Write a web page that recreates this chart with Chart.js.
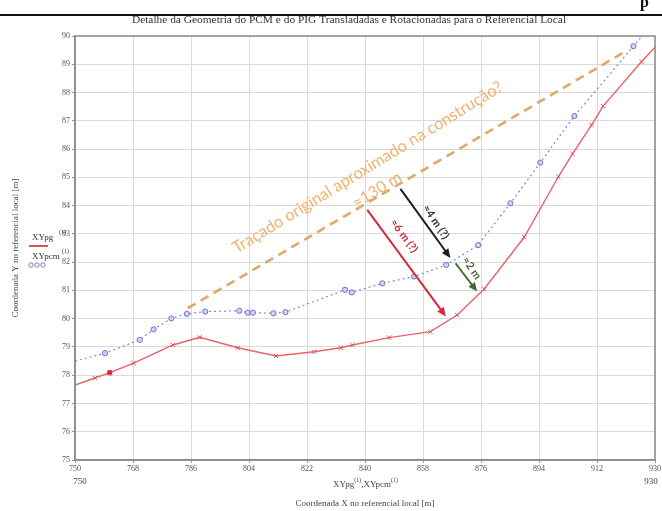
<!DOCTYPE html>
<html>
<head>
<meta charset="utf-8">
<script src="https://cdn.jsdelivr.net/npm/chart.js@4.4.1/dist/chart.umd.min.js"></script>
<style>
  html, body { margin: 0; padding: 0; background: #fff; }
  #wrap { width: 662px; height: 511px; position: relative; }
</style>
</head>
<body>
<div id="wrap"><canvas id="grafico"></canvas></div>
<script>
// eixos
const xTicks = [750, 768, 786, 804, 822, 840, 858, 876, 894, 912, 930];
const yMin = 75, yMax = 90;

// XYpg (vermelho)
const pgX = [750, 756.2, 760.8, 768.2, 780.4, 788.7, 800.5, 812.4, 824.2, 832.5, 836.1, 847.5,
             860.3, 868.6, 877.0, 889.4, 900.0, 904.4, 910.3, 913.9, 925.8, 930];
const pgY = [77.65, 77.9, 78.09, 78.43, 79.07, 79.34, 78.97, 78.68, 78.83, 78.97, 79.07, 79.33,
             79.54, 80.13, 81.05, 82.88, 85.02, 85.83, 86.85, 87.52, 89.09, 89.6];

// XYpcm (azul)
const pcmX = [750, 759.3, 770.1, 774.4, 779.9, 784.7, 790.4, 801.0, 803.6, 805.2, 811.6, 815.3,
              833.8, 835.9, 845.4, 855.2, 865.2, 875.1, 885.1, 894.4, 905.0, 923.3, 929];
const pcmY = [78.5, 78.78, 79.25, 79.62, 80.01, 80.17, 80.25, 80.28, 80.21, 80.21, 80.19, 80.23,
              81.02, 80.93, 81.25, 81.49, 81.90, 82.60, 84.08, 85.52, 87.17, 89.64, 90.41];

// traçado original (tracejado laranja)
const tracX = [785, 920.6];
const tracY = [80.37, 89.44];

// setas [x0, y0, x1, y1] em coordenadas do referencial
const setaPreta = [851.0, 84.59, 866.5, 82.15];
const setaVermelha = [840.7, 83.85, 865.1, 80.08];
const setaVerde = [868.1, 81.96, 874.8, 80.96];

// textos anotados: [x, y] do centro
const textos = [
  { t: 'Traçado original aproximado na construção?', at: [840.8, 85.35], ang: -31.5, font: '16.4px Lato', cor: 'rgba(238,165,85,0.85)' },
  { t: '≈130 m', at: [843.7, 84.55], ang: -31.5, font: '16px Lato', cor: 'rgba(238,165,85,0.85)' },
  { t: '≈4 m (?)', at: [862.0, 83.42], ang: 56, font: 'bold 11px Lato', cor: '#333' },
  { t: '≈6 m (?)', at: [852.1, 82.93], ang: 54, font: 'bold 11px Lato', cor: '#c8283c' },
  { t: '≈2 m', at: [873.1, 81.79], ang: 55, font: 'bold 11px Lato', cor: '#4d5e3c' }
];

const pts = (xs, ys) => xs.map((x, i) => ({ x: x, y: ys[i] }));

function seta(ctx, s, p, cor) {
  const ax = s.x.getPixelForValue(p[0]), ay = s.y.getPixelForValue(p[1]);
  const bx = s.x.getPixelForValue(p[2]), by = s.y.getPixelForValue(p[3]);
  const a = Math.atan2(by - ay, bx - ax);
  ctx.save();
  ctx.strokeStyle = cor; ctx.fillStyle = cor; ctx.lineWidth = 2;
  ctx.beginPath(); ctx.moveTo(ax, ay);
  ctx.lineTo(bx - 6 * Math.cos(a), by - 6 * Math.sin(a)); ctx.stroke();
  ctx.beginPath();
  ctx.moveTo(bx, by);
  ctx.lineTo(bx - 9 * Math.cos(a) + 4 * Math.sin(a), by - 9 * Math.sin(a) - 4 * Math.cos(a));
  ctx.lineTo(bx - 9 * Math.cos(a) - 4 * Math.sin(a), by - 9 * Math.sin(a) + 4 * Math.cos(a));
  ctx.closePath(); ctx.fill();
  ctx.restore();
}

const extras = {
  id: 'extras',
  afterDraw(chart) {
    const ctx = chart.ctx, area = chart.chartArea;
    const s = { x: chart.scales.x, y: chart.scales.y };

    // moldura do gráfico
    ctx.save();
    ctx.strokeStyle = '#8c8c8c'; ctx.lineWidth = 1.5;
    ctx.strokeRect(area.left, area.top, area.right - area.left, area.bottom - area.top);

    // linha de página no topo
    ctx.strokeStyle = '#111'; ctx.lineWidth = 2;
    ctx.beginPath(); ctx.moveTo(0, 15); ctx.lineTo(662, 15); ctx.stroke();
    ctx.fillStyle = '#111'; ctx.font = 'bold 16px "Liberation Serif"';
    ctx.textAlign = 'left'; ctx.textBaseline = 'alphabetic';
    ctx.fillText('p', 640, 7);

    // título
    ctx.fillStyle = '#333'; ctx.font = '11.4px "Liberation Serif"';
    ctx.textAlign = 'center'; ctx.textBaseline = 'middle';
    ctx.fillText('Detalhe da Geometria do PCM e do PIG Transladadas e Rotacionadas para o Referencial Local', 349, 20);

    // títulos dos eixos
    ctx.font = '9px "Liberation Serif"'; ctx.fillStyle = '#444';
    ctx.fillText('Coordenada X no referencial local [m]', 365, 504);
    ctx.fillText('750', 80, 482);
    ctx.fillText('930', 651, 482);
    ctx.textAlign = 'left';
    ctx.fillText('XYpg', 333, 485);
    let w = ctx.measureText('XYpg').width;
    ctx.font = '6px "Liberation Serif"'; ctx.fillText('(1)', 333 + w, 480);
    let w2 = ctx.measureText('(1)').width;
    ctx.font = '9px "Liberation Serif"'; ctx.fillText(',XYpcm', 333 + w + w2, 485);
    let w3 = ctx.measureText(',XYpcm').width;
    ctx.font = '6px "Liberation Serif"'; ctx.fillText('(1)', 333 + w + w2 + w3, 480);

    ctx.save();
    ctx.translate(16, 248); ctx.rotate(-Math.PI / 2);
    ctx.font = '9px "Liberation Serif"'; ctx.textAlign = 'center';
    ctx.fillText('Coordenada Y no referencial local [m]', 0, 0);
    ctx.restore();

    // legenda
    ctx.font = '9px "Liberation Serif"'; ctx.textAlign = 'left'; ctx.fillStyle = '#333';
    ctx.fillText('XYpg', 32, 238);
    ctx.fillText('XYpcm', 32, 257);
    ctx.font = '6px "Liberation Serif"';
    ctx.fillText('(1)', 59, 232);
    ctx.fillText('(1)', 62, 251);
    ctx.strokeStyle = '#e0505a'; ctx.lineWidth = 2;
    ctx.beginPath(); ctx.moveTo(29, 246); ctx.lineTo(48, 246); ctx.stroke();
    ctx.strokeStyle = '#7a7ad8'; ctx.lineWidth = 1;
    for (let i = 0; i < 3; i++) {
      ctx.beginPath(); ctx.arc(31 + i * 6, 265, 2.2, 0, Math.PI * 2); ctx.stroke();
    }
    ctx.restore();

    // setas
    seta(ctx, s, setaPreta, '#1e1e1e');
    seta(ctx, s, setaVermelha, '#d42a3a');
    seta(ctx, s, setaVerde, '#3f6a2e');

    // textos rotacionados
    textos.forEach(o => {
      ctx.save();
      ctx.translate(s.x.getPixelForValue(o.at[0]), s.y.getPixelForValue(o.at[1]));
      ctx.rotate(o.ang * Math.PI / 180);
      ctx.font = o.font; ctx.fillStyle = o.cor;
      ctx.textAlign = 'center'; ctx.textBaseline = 'middle';
      ctx.fillText(o.t, 0, 0);
      ctx.restore();
    });
  }
};

const pgRaio = pgX.map((x, i) => (i === 0 || i === pgX.length - 1) ? 0 : 3);
const pgEstilo = pgX.map((x, i) => i === 2 ? 'rect' : 'crossRot');
const pcmRaio = pcmX.map((x, i) => (i === 0 || i === pcmX.length - 1) ? 0 : 2.6);

new Chart(document.getElementById('grafico'), {
  type: 'scatter',
  data: {
    datasets: [
      {
        label: 'Traçado original',
        data: pts(tracX, tracY),
        showLine: true,
        borderColor: 'rgba(220,160,90,0.9)',
        borderWidth: 2.6,
        borderDash: [9, 6],
        pointRadius: 0,
        order: 3
      },
      {
        label: 'XYpcm',
        data: pts(pcmX, pcmY),
        showLine: true,
        borderColor: 'rgba(110,110,210,0.85)',
        borderWidth: 1.2,
        borderDash: [2, 3],
        pointStyle: 'circle',
        pointRadius: pcmRaio,
        pointBorderColor: '#6e6ed2',
        pointBackgroundColor: 'rgba(205,205,245,0.8)',
        pointBorderWidth: 1,
        clip: 0,
        order: 2
      },
      {
        label: 'XYpg',
        data: pts(pgX, pgY),
        showLine: true,
        borderColor: '#e8636c',
        borderWidth: 1.4,
        pointStyle: pgEstilo,
        pointRadius: pgRaio,
        pointBorderColor: '#e0505a',
        pointBackgroundColor: '#d8202c',
        pointBorderWidth: 1,
        clip: 0,
        order: 1
      }
    ]
  },
  options: {
    responsive: true,
    maintainAspectRatio: false,
    animation: false,
    layout: { padding: { top: 36, right: 5, left: 0, bottom: 0 } },
    plugins: { legend: { display: false }, tooltip: { enabled: false }, title: { display: false } },
    scales: {
      x: {
        type: 'linear', min: 750, max: 930,
        afterBuildTicks: sc => { sc.ticks = xTicks.map(v => ({ value: v })); },
        afterFit: sc => { sc.height = 51; },
        grid: { color: '#dadada', lineWidth: 1, tickLength: 3, tickColor: '#999' },
        border: { color: '#8c8c8c', width: 1.5 },
        ticks: { color: '#555', font: { family: 'Liberation Serif', size: 8 }, padding: 1, maxRotation: 0 }
      },
      y: {
        type: 'linear', min: yMin, max: yMax,
        ticks: { stepSize: 1, color: '#555', font: { family: 'Liberation Serif', size: 8 }, padding: 2 },
        afterFit: sc => { sc.width = 75; },
        grid: { color: '#dadada', lineWidth: 1, tickLength: 3, tickColor: '#999' },
        border: { color: '#8c8c8c', width: 1.5 }
      }
    }
  },
  plugins: [extras]
});
</script>
</body>
</html>
